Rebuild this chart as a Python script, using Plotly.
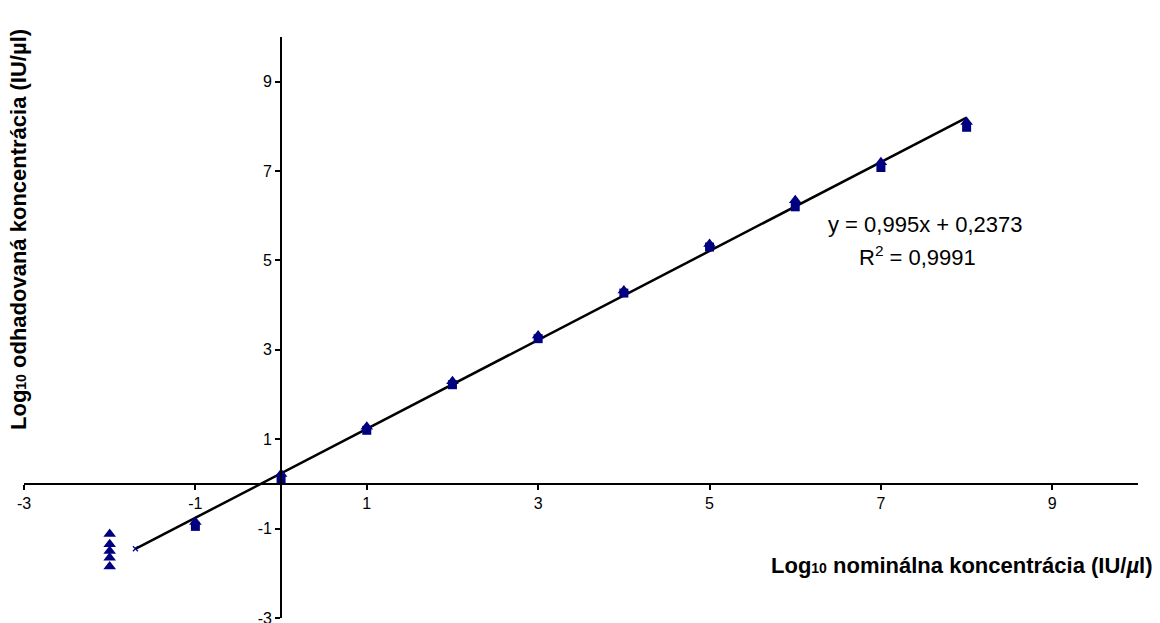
import plotly.graph_objects as go

# Data
nominal_x = [-2, -2, -2, -2, -2, -1, 0, 1, 2, 3, 4, 5, 6, 7, 8]
triangle_y = [-1.12, -1.35, -1.5, -1.65, -1.85, -0.85, 0.22, 1.28, 2.3, 3.32, 4.33, 5.37, 6.35, 7.2, 8.1]
square_x = [-1, 0, 1, 2, 3, 4, 5, 6, 7, 8]
square_y = [-0.95, 0.1, 1.2, 2.22, 3.25, 4.27, 5.3, 6.2, 7.08, 7.98]
cross_x = [-1.7]
cross_y = [-1.45]

slope = 0.995
intercept = 0.2373
fit_x = [-1.7, 8]
fit_y = [slope * v + intercept for v in fit_x]

tick_vals = [-3, -1, 1, 3, 5, 7, 9]
tick_text = ["-3", "-1", "1", "3", "5", "7", "9"]

navy = "#000080"
font = "Arial, Liberation Sans, sans-serif"

W, H = 1160, 623
ML, MR, MT, MB = 24, 22, 37, 5
PW, PH = W - ML - MR, H - MT - MB

def px_x(p):
    return (p - ML) / PW

def px_y(p):
    return (H - MB - p) / PH

fig = go.Figure()
fig.add_trace(go.Scatter(x=fit_x, y=fit_y, mode="lines",
                         line=dict(color="black", width=2.5), hoverinfo="skip"))
fig.add_trace(go.Scatter(x=square_x, y=square_y, mode="markers",
                         marker=dict(symbol="square", size=9, color=navy)))
fig.add_trace(go.Scatter(x=nominal_x, y=triangle_y, mode="markers",
                         marker=dict(symbol="triangle-up", size=11, color=navy)))
fig.add_trace(go.Scatter(x=cross_x, y=cross_y, mode="markers",
                         marker=dict(symbol="x-thin", size=5, color=navy,
                                     line=dict(color=navy, width=1.2))))

xmin, xmax = -3, 10
ymin, ymax = -3, 10

sub = "<span style='font-size:14px'>10</span>"

axis_common = dict(tickvals=tick_vals, ticktext=tick_text,
                   showgrid=False, zeroline=False, showline=True, linecolor="black",
                   ticks="outside", ticklen=5, tickcolor="black", tickwidth=1.5,
                   anchor="free", automargin=False, ticklabeloverflow="allow",
                   tickfont=dict(size=16, family=font, color="black"))

fig.update_layout(
    width=W, height=H,
    margin=dict(l=ML, r=MR, t=MT, b=MB),
    paper_bgcolor="white", plot_bgcolor="white",
    showlegend=False,
    font=dict(family=font, size=16, color="black"),
    xaxis=dict(range=[xmin, xmax], linewidth=1.5,
               position=(0 - ymin) / (ymax - ymin), **axis_common),
    yaxis=dict(range=[ymin, ymax], linewidth=2,
               position=(0 - xmin) / (xmax - xmin), **axis_common),
    annotations=[
        dict(text="y = 0,995x + 0,2373", x=px_x(925), y=px_y(225),
             xref="paper", yref="paper", showarrow=False,
             font=dict(size=22, family=font), xanchor="center", yanchor="middle"),
        dict(text="R<sup>2</sup> = 0,9991", x=px_x(917), y=px_y(256),
             xref="paper", yref="paper", showarrow=False,
             font=dict(size=22, family=font), xanchor="center", yanchor="middle"),
        dict(text="<b>Log" + sub + " nominálna koncentrácia (IU/<i>µ</i>l)</b>",
             xref="paper", yref="paper", x=px_x(1155), y=px_y(565),
             xanchor="right", yanchor="middle",
             showarrow=False, font=dict(size=22, family=font)),
        dict(text="<b>Log" + sub + " odhadovaná koncentrácia (IU/µl)</b>",
             xref="paper", yref="paper", x=px_x(18), y=px_y(230),
             xanchor="center", yanchor="middle",
             textangle=-90, showarrow=False, font=dict(size=22, family=font)),
    ],
)

fig.write_html("out.html", config={"displayModeBar": False},
               post_script="document.body.style.margin='0';document.body.style.overflow='hidden';")
